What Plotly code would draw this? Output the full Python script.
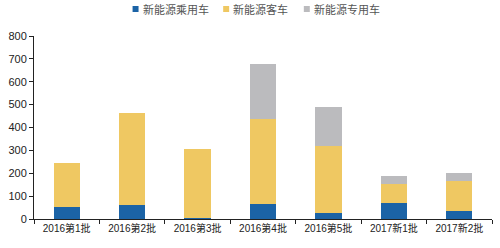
import plotly.graph_objects as go

categories = ["2016第1批", "2016第2批", "2016第3批", "2016第4批", "2016第5批", "2017新1批", "2017新2批"]
passenger = [52, 62, 5, 65, 25, 72, 37]
bus = [195, 403, 302, 372, 292, 81, 127]
special = [0, 0, 0, 242, 174, 33, 37]
y_ticks = [0, 100, 200, 300, 400, 500, 600, 700, 800]

names = ["新能源乘用车", "新能源客车", "新能源专用车"]
colors = ["#1b63a6", "#efc862", "#bbbbbe"]

W, H = 500, 248
ML, MR, MT, MB = 32, 8, 36, 29
PW, PH = W - ML - MR, H - MT - MB


def px(x):
    return (x - ML) / PW


def py(y):
    return (H - MB - y) / PH


fig = go.Figure()
for name, vals, col in zip(names, [passenger, bus, special], colors):
    fig.add_trace(go.Bar(x=categories, y=vals, name=name, showlegend=False,
                         marker=dict(color=col, line=dict(width=0))))

# manual legend (square + text) to match the reference's compact spacing
legend_x = [131, 222, 303]
for name, col, lx in zip(names, colors, legend_x):
    fig.add_shape(type="rect", xref="paper", yref="paper",
                  x0=px(lx), x1=px(lx + 6), y0=py(12), y1=py(6),
                  fillcolor=col, line=dict(width=0))
    fig.add_annotation(xref="paper", yref="paper", x=px(lx + 8), y=py(9),
                       xanchor="left", yanchor="middle", showarrow=False,
                       text=name, font=dict(family="Noto Sans CJK SC", size=11, color="#555"))

fig.update_layout(
    barmode="stack",
    bargap=0.6,
    width=W, height=H,
    margin=dict(l=ML, r=MR, t=MT, b=MB),
    paper_bgcolor="white", plot_bgcolor="white",
    font=dict(family="Liberation Sans, Noto Sans CJK SC", size=11, color="#222"),
    xaxis=dict(showline=True, linecolor="#222", linewidth=1, ticks="outside",
               tickson="boundaries", ticklen=4, tickcolor="#222",
               tickfont=dict(family="Liberation Sans, Noto Sans CJK SC", size=10, color="#222")),
    yaxis=dict(range=[0, 800], tickvals=y_ticks, showline=True, linecolor="#222", linewidth=1,
               ticks="outside", ticklen=4, tickcolor="#222", showgrid=False, zeroline=False,
               tickfont=dict(family="Liberation Sans", size=11, color="#222")),
)

fig.write_html("out.html")
